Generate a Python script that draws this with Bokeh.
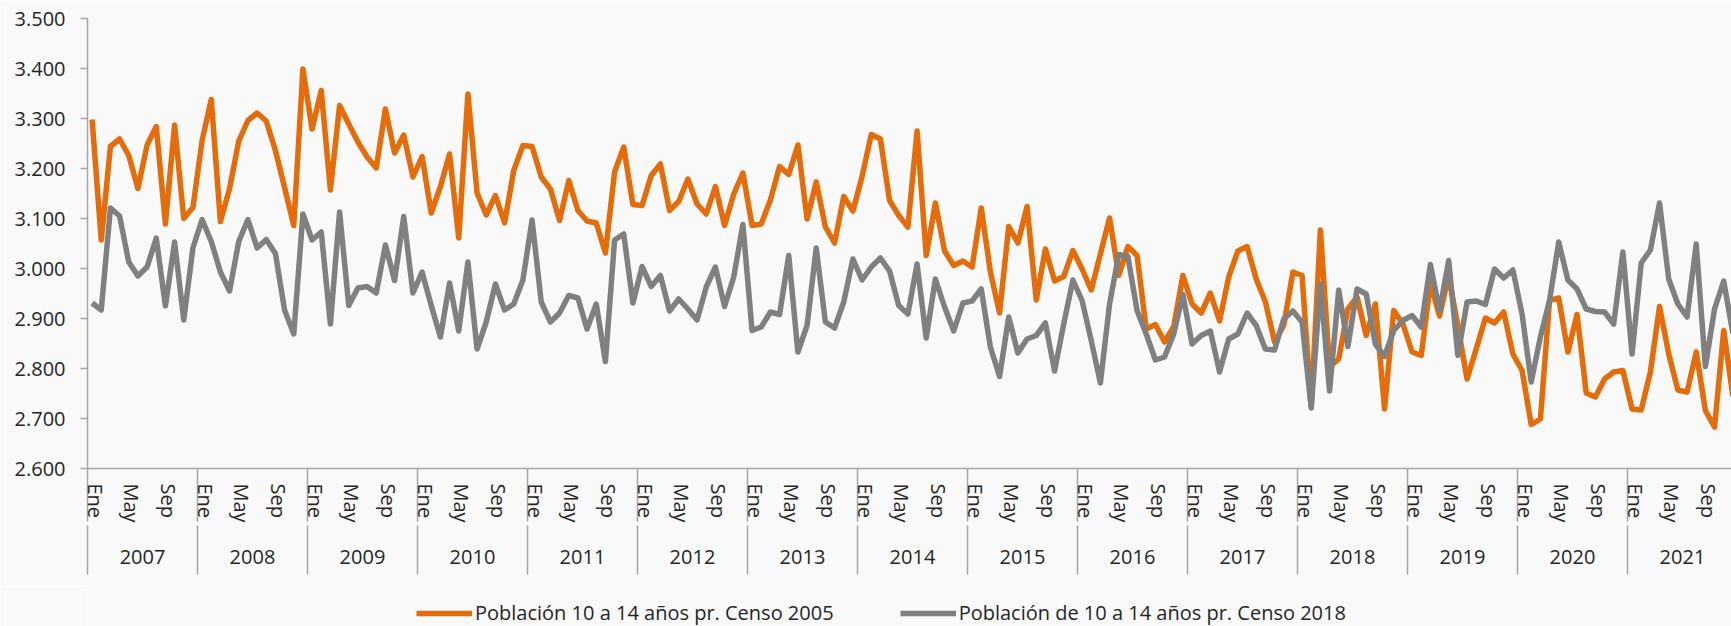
import math
from bokeh.plotting import figure
from bokeh.models import Range1d, FixedTicker, LinearAxis
from bokeh.layouts import column
from bokeh.embed import file_html
from bokeh.resources import INLINE

# ---------------- data ----------------
years = [str(y) for y in range(2007, 2022)]
months = ["Ene", "Feb", "Mar", "Abr", "May", "Jun", "Jul", "Ago", "Sep", "Oct", "Nov", "Dic"]
shown_months = [0, 4, 8]  # Ene, May, Sep

censo2005 = [
    3298, 3057, 3244, 3259, 3226, 3160, 3247, 3284, 3089, 3287, 3100, 3122,  # 2007
    3256, 3338, 3094, 3160, 3255, 3296, 3311, 3295, 3236, 3162, 3086, 3399,  # 2008
    3279, 3356, 3157, 3326, 3289, 3253, 3223, 3201, 3319, 3231, 3267, 3183,  # 2009
    3224, 3111, 3164, 3229, 3061, 3349, 3151, 3107, 3146, 3091, 3196, 3246,  # 2010
    3244, 3183, 3159, 3096, 3176, 3116, 3095, 3091, 3031, 3193, 3243, 3128,  # 2011
    3126, 3186, 3209, 3116, 3134, 3179, 3129, 3109, 3164, 3086, 3149, 3191,  # 2012
    3086, 3089, 3137, 3204, 3188, 3247, 3099, 3173, 3083, 3051, 3144, 3115,  # 2013
    3184, 3268, 3259, 3136, 3106, 3083, 3275, 3026, 3131, 3035, 3006, 3015,  # 2014
    3003, 3121, 2993, 2911, 3084, 3051, 3124, 2937, 3039, 2975, 2984, 3036,  # 2015
    2999, 2957, 3029, 3101, 2986, 3044, 3026, 2879, 2888, 2853, 2884, 2986,  # 2016
    2929, 2911, 2951, 2895, 2983, 3035, 3044, 2979, 2933, 2853, 2886, 2993,  # 2017
    2986, 2723, 3077, 2803, 2819, 2919, 2943, 2866, 2929, 2719, 2916, 2889,  # 2018
    2833, 2826, 2970, 2905, 2985, 2885, 2779, 2839, 2901, 2891, 2913, 2829,  # 2019
    2796, 2688, 2699, 2936, 2941, 2833, 2908, 2751, 2743, 2779, 2793, 2796,  # 2020
    2719, 2717, 2793, 2924, 2829, 2757, 2753, 2833, 2716, 2683, 2876, 2745,  # 2021
]

censo2018 = [
    2931, 2917, 3121, 3105, 3013, 2985, 3003, 3061, 2925, 3053, 2897, 3041,  # 2007
    3098, 3054, 2993, 2955, 3054, 3098, 3041, 3058, 3030, 2917, 2869, 3109,  # 2008
    3057, 3073, 2889, 3113, 2926, 2961, 2964, 2951, 3047, 2976, 3104, 2951,  # 2009
    2993, 2926, 2863, 2971, 2875, 3013, 2839, 2893, 2969, 2917, 2929, 2977,  # 2010
    3097, 2933, 2893, 2911, 2946, 2941, 2879, 2929, 2814, 3057, 3069, 2931,  # 2011
    3004, 2964, 2986, 2915, 2939, 2919, 2897, 2963, 3003, 2924, 2983, 3088,  # 2012
    2876, 2883, 2913, 2908, 3026, 2833, 2886, 3041, 2893, 2881, 2933, 3019,  # 2013
    2977, 3003, 3021, 2995, 2926, 2909, 3009, 2861, 2979, 2923, 2875, 2931,  # 2014
    2935, 2959, 2843, 2784, 2903, 2831, 2859, 2866, 2891, 2795, 2889, 2977,  # 2015
    2936, 2856, 2771, 2929, 3028, 3024, 2916, 2869, 2817, 2823, 2869, 2948,  # 2016
    2849, 2866, 2875, 2793, 2859, 2869, 2911, 2886, 2839, 2837, 2899, 2915,  # 2017
    2893, 2721, 2969, 2755, 2957, 2844, 2959, 2949, 2849, 2824, 2876, 2896,  # 2018
    2906, 2883, 3008, 2915, 3016, 2826, 2933, 2935, 2928, 2999, 2981, 2997,  # 2019
    2909, 2773, 2863, 2936, 3053, 2977, 2959, 2919, 2914, 2913, 2889, 3033,  # 2020
    2829, 3011, 3037, 3131, 2979, 2929, 2903, 3049, 2804, 2919, 2975, 2870,  # 2021
]

y_ticks = [2600, 2700, 2800, 2900, 3000, 3100, 3200, 3300, 3400, 3500]
y_tick_labels = ["2.600", "2.700", "2.800", "2.900", "3.000", "3.100", "3.200", "3.300", "3.400", "3.500"]

serie_a = "Población 10 a 14 años pr. Censo 2005"
serie_b = "Población de 10 a 14 años pr. Censo 2018"

# ---------------- style ----------------
BG = "#f9f9f9"
AX = "#a6a6a6"
TXT = "#262626"
ORANGE = "#E46C0A"
GRAY = "#808080"
FONT = "Open Sans"
FS = "20px"
LW = 5.5
LABEL_SHIFT = 0.35   # month labels sit slightly right of the category centre

x = [i + 0.5 for i in range(len(censo2005))]

p = figure(width=1731, height=586,
           x_range=Range1d(0, 179.35), y_range=Range1d(2600, 3500),
           output_backend="svg", toolbar_location=None,
           min_border_left=87, min_border_right=0, min_border_top=18, min_border_bottom=118,
           background_fill_color=BG, border_fill_color=BG, outline_line_color=None)
p.grid.visible = False

p.line(x, censo2005, line_color=ORANGE, line_width=LW, line_join="round")
p.line(x, censo2018, line_color=GRAY, line_width=LW, line_join="round")

# y axis
ya = p.yaxis[0]
ya.ticker = FixedTicker(ticks=y_ticks)
ya.major_label_overrides = dict(zip(y_ticks, y_tick_labels))
ya.axis_line_color = AX
ya.axis_line_width = 1.5
ya.major_tick_line_color = AX
ya.major_tick_line_width = 1.5
ya.major_tick_out = 7
ya.major_tick_in = 0
ya.minor_tick_line_color = None
ya.major_label_text_font = FONT
ya.major_label_text_font_size = FS
ya.major_label_text_color = TXT
ya.major_label_standoff = 15

# month axis (first level)
month_ticks = []
month_over = {}
for yi in range(len(years)):
    for m in shown_months:
        t = yi * 12 + m + 0.5 + LABEL_SHIFT
        month_ticks.append(t)
        month_over[t] = months[m]
year_bounds = [float(yi * 12) for yi in range(len(years))]

xa = p.xaxis[0]
xa.ticker = FixedTicker(ticks=month_ticks, minor_ticks=year_bounds)
xa.major_label_overrides = month_over
xa.axis_line_color = AX
xa.axis_line_width = 1.5
xa.major_tick_line_color = None
xa.major_tick_out = 0
xa.major_tick_in = 0
xa.minor_tick_line_color = AX
xa.minor_tick_line_width = 1.5
xa.minor_tick_out = 53
xa.minor_tick_in = 0
xa.major_label_orientation = "vertical"
xa.major_label_standoff = -38
xa.major_label_text_font = FONT
xa.major_label_text_font_size = FS
xa.major_label_text_color = TXT

# year axis (second level)
year_centers = [yi * 12 + 6.0 for yi in range(len(years))]
year_axis = LinearAxis(ticker=FixedTicker(ticks=year_centers, minor_ticks=year_bounds),
                       major_label_overrides=dict(zip(year_centers, years)))
year_axis.axis_line_color = None
year_axis.major_tick_line_color = None
year_axis.major_tick_out = 0
year_axis.major_tick_in = 0
year_axis.minor_tick_line_color = AX
year_axis.minor_tick_line_width = 1.5
year_axis.minor_tick_out = 49
year_axis.minor_tick_in = 0
year_axis.major_label_standoff = -25
year_axis.major_label_text_font = FONT
year_axis.major_label_text_font_size = FS
year_axis.major_label_text_color = TXT
p.add_layout(year_axis, "below")

# legend strip (separate small figure under the chart; its frame aligns with the chart's)
pl = figure(width=1731, height=40, x_range=Range1d(0, 1), y_range=Range1d(0, 1),
            output_backend="svg", toolbar_location=None,
            min_border_left=0, min_border_right=0, min_border_top=0, min_border_bottom=0,
            background_fill_color=BG, border_fill_color=BG, outline_line_color=None)
pl.axis.visible = False
pl.grid.visible = False
# legend-only renderers: their points lie outside the strip's visible range
pl.line([5, 6], [5, 6], line_color=ORANGE, line_width=LW, legend_label=serie_a)
pl.line([5, 6], [5, 6], line_color=GRAY, line_width=LW, legend_label=serie_b)
lg = pl.legend[0]
lg.orientation = "horizontal"
lg.location = (329, 0)
lg.glyph_width = 56
lg.glyph_height = 20
lg.label_standoff = 3
lg.spacing = 66
lg.padding = 0
lg.margin = 0
lg.border_line_color = None
lg.background_fill_alpha = 0
lg.label_text_font = FONT
lg.label_text_font_size = FS
lg.label_text_color = TXT

layout = column(p, pl, spacing=0)
open("out.html", "w").write(file_html(layout, INLINE))
